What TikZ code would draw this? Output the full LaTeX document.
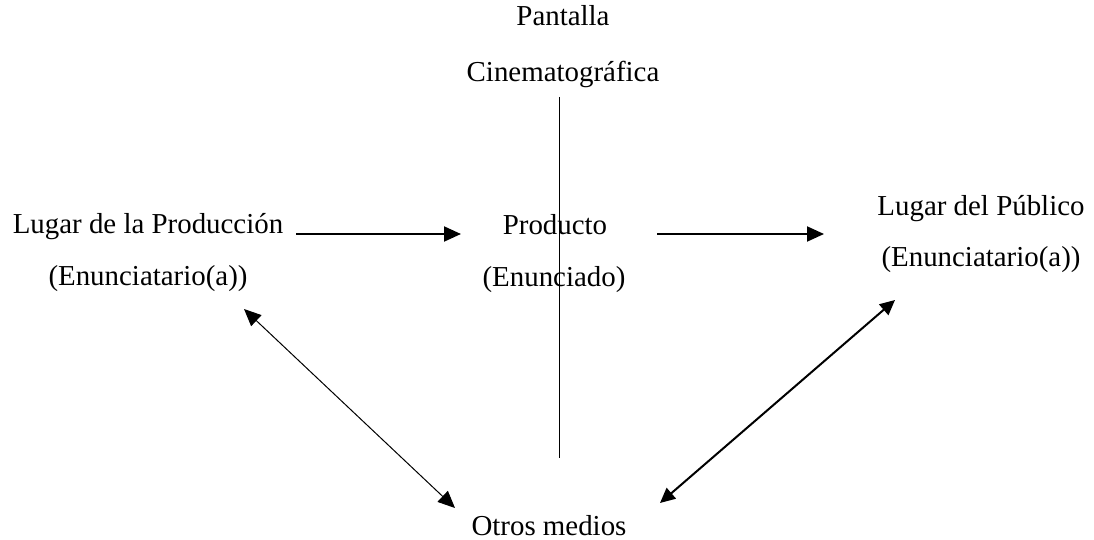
\documentclass[tikz,border=0pt]{standalone}
\usepackage{fontspec}
\setmainfont{Liberation Serif}
\usetikzlibrary{arrows.meta}
\begin{document}
\begin{tikzpicture}[x=1pt,y=-1pt,
  lbl/.style={anchor=base,inner sep=0pt,font=\fontsize{28.9}{34}\selectfont},
  thick arrow/.style={line width=2pt,-{Triangle[length=17pt,width=15pt]}},
  thin both/.style={line width=1pt,{Triangle[length=17pt,width=15pt]}-{Triangle[length=17pt,width=15pt]}},
  mid both/.style={line width=2pt,{Triangle[length=15pt,width=14pt]}-{Triangle[length=15pt,width=14pt]}},
  plain line/.style={line width=1pt}]
\useasboundingbox (0,0) rectangle (1094,540);
\fill[white] (0,0) rectangle (1094,540);
% texts
\node[lbl] (pan) at (563,26) {Pantalla};
\node[lbl] (cin) at (563,82) {Cinematográfica};
\node[lbl] (lp1) at (148,233) {Lugar de la Producción};
\node[lbl] (lp2) at (148,285) {(Enunciatario(a))};
\node[lbl] (pr1) at (555,234) {Producto};
\node[lbl] (pr2) at (554,286) {(Enunciado)};
\node[lbl] (pu1) at (981,215) {Lugar del Público};
\node[lbl] (pu2) at (981,266) {(Enunciatario(a))};
\node[lbl] (otr) at (549,535) {Otros medios};
% connector end points
\coordinate (vt) at (559,97);
\coordinate (vb) at (559,458);
\coordinate (a1s) at (296,234);
\coordinate (a1e) at (461,234);
\coordinate (a2s) at (657,234);
\coordinate (a2e) at (824,234);
\coordinate (l1) at (244,309);
\coordinate (l2) at (455,508);
\coordinate (r1) at (660,503);
\coordinate (r2) at (895,300);
% connectors
\draw[plain line] (vt) -- (vb);
\draw[thick arrow] (a1s) -- (a1e);
\draw[thick arrow] (a2s) -- (a2e);
\draw[thin both] (l1) -- (l2);
\draw[mid both] (r1) -- (r2);
\end{tikzpicture}
\end{document}
